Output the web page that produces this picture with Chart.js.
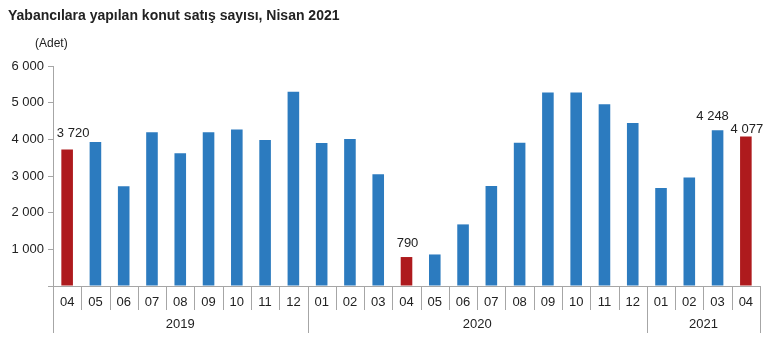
<!DOCTYPE html>
<html>
<head>
<meta charset="utf-8">
<script src="https://cdn.jsdelivr.net/npm/chart.js@4.4.1/dist/chart.umd.min.js"></script>
<style>
  html, body { margin: 0; padding: 0; background: #ffffff; }
  #wrap { position: relative; width: 770px; height: 342px; }
</style>
</head>
<body>
<div id="wrap"><canvas id="c" width="770" height="342"></canvas></div>
<script>
// Monthly dwelling sales to foreigners, April 2019 – April 2021
const months = ['04','05','06','07','08','09','10','11','12',
                '01','02','03','04','05','06','07','08','09','10','11','12',
                '01','02','03','04'];
const years = ['2019','2020','2021'];
const yearSpans = [9, 12, 4];            // number of months shown per year
const sales = [3720, 3930, 2720, 4190, 3620, 4190, 4270, 3980, 5300,
               3900, 4010, 3050, 790, 860, 1680, 2730, 3910, 5275, 5275, 4958, 4446,
               2676, 2960, 4248, 4077];
const highlighted = [0, 12, 24];         // April of each year
const labelled = [0, 12, 23, 24];        // bars with a value label
const yTicks = [0, 1000, 2000, 3000, 4000, 5000, 6000];

const BLUE = '#2c7bbf';
const RED = '#ae1a1d';
const AXIS = '#a6a6a6';
const TEXT = '#222222';
const FONT = '"Liberation Sans", Arial, sans-serif';

// nudges for value labels so they clear the axis and each other: [dx, gap above bar]
const labelNudge = { 0: [6, 13], 12: [1, 10], 23: [-5, 10], 24: [1, 4] };

const fmt = v => String(v).replace(/\B(?=(\d{3})+(?!\d))/g, ' ');

const barColors = sales.map((_, i) => highlighted.includes(i) ? RED : BLUE);

const decorations = {
  id: 'decorations',
  afterDraw(chart) {
    const ctx = chart.ctx;
    const x = chart.scales.x, y = chart.scales.y;
    const area = chart.chartArea;
    ctx.save();

    // heading and unit
    ctx.fillStyle = TEXT;
    ctx.textBaseline = 'alphabetic';
    ctx.textAlign = 'left';
    ctx.font = 'bold 14px ' + FONT;
    ctx.fillText('Yabancılara yapılan konut satış sayısı, Nisan 2021', 8, 20);
    ctx.font = '12px ' + FONT;
    ctx.fillText('(Adet)', 35, 47);

    // category separators and year groups
    const half = (x.getPixelForValue(1) - x.getPixelForValue(0)) / 2;
    ctx.strokeStyle = AXIS;
    ctx.lineWidth = 1;
    const bottom = area.bottom;
    let start = 0;
    const yearBounds = [0];
    yearSpans.forEach(n => { start += n; yearBounds.push(start); });
    for (let i = 0; i <= months.length; i++) {
      const px = Math.round(x.getPixelForValue(i) - half) + 0.5;
      const long = yearBounds.includes(i);
      ctx.beginPath();
      ctx.moveTo(px, bottom);
      ctx.lineTo(px, bottom + (long ? 47 : 24));
      ctx.stroke();
    }
    ctx.fillStyle = TEXT;
    ctx.font = '13px ' + FONT;
    ctx.textAlign = 'center';
    ctx.textBaseline = 'middle';
    years.forEach((yr, k) => {
      const a = x.getPixelForValue(yearBounds[k]) - half;
      const b = x.getPixelForValue(yearBounds[k + 1]) - half;
      ctx.fillText(yr, (a + b) / 2, bottom + 38);
    });

    // value labels
    const meta = chart.getDatasetMeta(0);
    ctx.textBaseline = 'alphabetic';
    labelled.forEach(i => {
      const bar = meta.data[i];
      const [dx, gap] = labelNudge[i] || [0, 8];
      ctx.fillText(fmt(sales[i]), bar.x + dx, y.getPixelForValue(sales[i]) - gap);
    });
    ctx.restore();
  }
};

new Chart(document.getElementById('c'), {
  type: 'bar',
  data: {
    labels: months,
    datasets: [{
      data: sales,
      backgroundColor: barColors,
      borderWidth: 0,
      categoryPercentage: 1.0,
      barPercentage: 0.41
    }]
  },
  options: {
    responsive: false,
    animation: false,
    events: [],
    layout: { padding: { left: 0, right: 10, top: 66, bottom: 0 } },
    plugins: { legend: { display: false }, tooltip: { enabled: false }, title: { display: false } },
    scales: {
      x: {
        grid: { display: false },
        border: { display: true, color: AXIS, width: 1 },
        ticks: { color: TEXT, font: { family: FONT, size: 13 }, padding: 1, maxRotation: 0, autoSkip: false },
        afterFit(s) { s.height = 56; }
      },
      y: {
        min: 0, max: 6000,
        afterBuildTicks(s) { s.ticks = yTicks.map(v => ({ value: v })); },
        grid: { display: true, drawOnChartArea: false, tickLength: 5, color: AXIS },
        border: { display: true, color: AXIS, width: 1 },
        ticks: {
          color: TEXT, font: { family: FONT, size: 13 }, padding: 4,
          callback: v => v === 0 ? '' : fmt(v)
        },
        afterFit(s) { s.width = 53; }
      }
    }
  },
  plugins: [decorations]
});
</script>
</body>
</html>
